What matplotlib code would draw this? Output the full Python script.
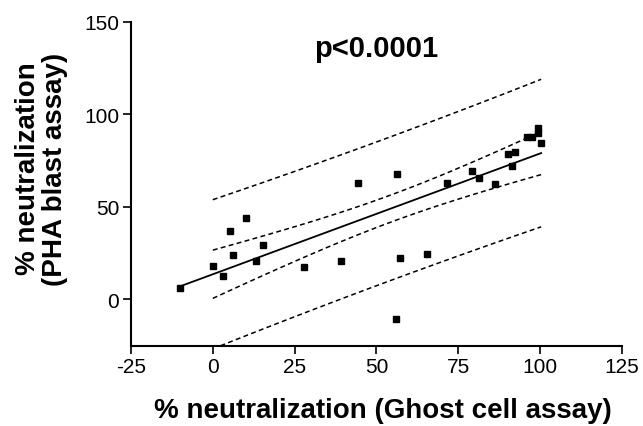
import numpy as np
from matplotlib import pyplot as plt

# % neutralization, Ghost cell assay (x) vs PHA blast assay (y)
ghost = [-10.0, 0.2, 3.1, 5.1, 6.1, 10.2, 13.1, 15.2, 28.0, 39.1, 44.3, 56.0, 56.2, 57.2,
         65.3, 71.4, 79.3, 81.3, 86.3, 90.3, 91.4, 92.4, 96.1, 97.5, 99.3, 99.3, 100.3]
pha = [6.1, 17.8, 12.7, 36.9, 23.7, 43.8, 20.9, 29.1, 17.6, 20.7, 62.7, -10.7, 67.6, 22.5,
       24.3, 62.6, 69.4, 65.4, 62.4, 78.7, 71.8, 79.5, 87.6, 87.6, 92.3, 89.8, 84.4]
x_ticks = [-25, 0, 25, 50, 75, 100, 125]
y_ticks = [0, 50, 100, 150]
p_text = 'p<0.0001'

plt.rcParams['font.family'] = ['Liberation Sans', 'DejaVu Sans']
plt.rcParams['axes.unicode_minus'] = False

x = np.array(ghost)
y = np.array(pha)
n = len(x)
slope, intercept = np.polyfit(x, y, 1)
resid = y - (slope * x + intercept)
s = np.sqrt(np.sum(resid ** 2) / (n - 2))
sxx = np.sum((x - x.mean()) ** 2)
t = 2.06  # t(0.975, df=25)

xl = np.linspace(x.min(), x.max(), 50)
xb = np.linspace(0, x.max(), 100)
fit_b = slope * xb + intercept
se_ci = s * np.sqrt(1 / n + (xb - x.mean()) ** 2 / sxx)
se_pi = s * np.sqrt(1 + 1 / n + (xb - x.mean()) ** 2 / sxx)

fig = plt.figure(figsize=(6.43, 4.27), dpi=100)
ax = fig.add_axes([0.2037, 0.1885, 0.7636, 0.7583])

dash = dict(color='black', lw=1.1, linestyle=(0, (3.2, 2.2)))
ax.plot(xl, slope * xl + intercept, color='black', lw=1.3)
ax.plot(xb, fit_b + t * se_ci, **dash)
ax.plot(xb, fit_b - t * se_ci, **dash)
ax.plot(xb, fit_b + t * se_pi, **dash)
ax.plot(xb, fit_b - t * se_pi, **dash)
ax.plot(x, y, 's', color='black', markersize=4.8, clip_on=False)

ax.set_xlim(-25, 125)
ax.set_ylim(-25, 150)
ax.set_xticks(x_ticks)
ax.set_yticks(y_ticks)
ax.spines['top'].set_visible(False)
ax.spines['right'].set_visible(False)
for sp in ['left', 'bottom']:
    ax.spines[sp].set_linewidth(1.5)
ax.tick_params(width=1.2, length=5.5, labelsize=15, pad=3)

ax.text(50, 131.5, p_text, ha='center', va='baseline', fontsize=21, fontweight='bold')

fig.text(383 / 643, 0.021, '% neutralization (Ghost cell assay)', ha='center', va='baseline',
         fontsize=20, fontweight='bold')
fig.text(42 / 643, 1 - 169 / 427, '% neutralization\n(PHA blast assay)', ha='center', va='center',
         rotation=90, multialignment='center', fontsize=20, fontweight='bold', linespacing=1.05)

fig.savefig('out.png', dpi=100)
